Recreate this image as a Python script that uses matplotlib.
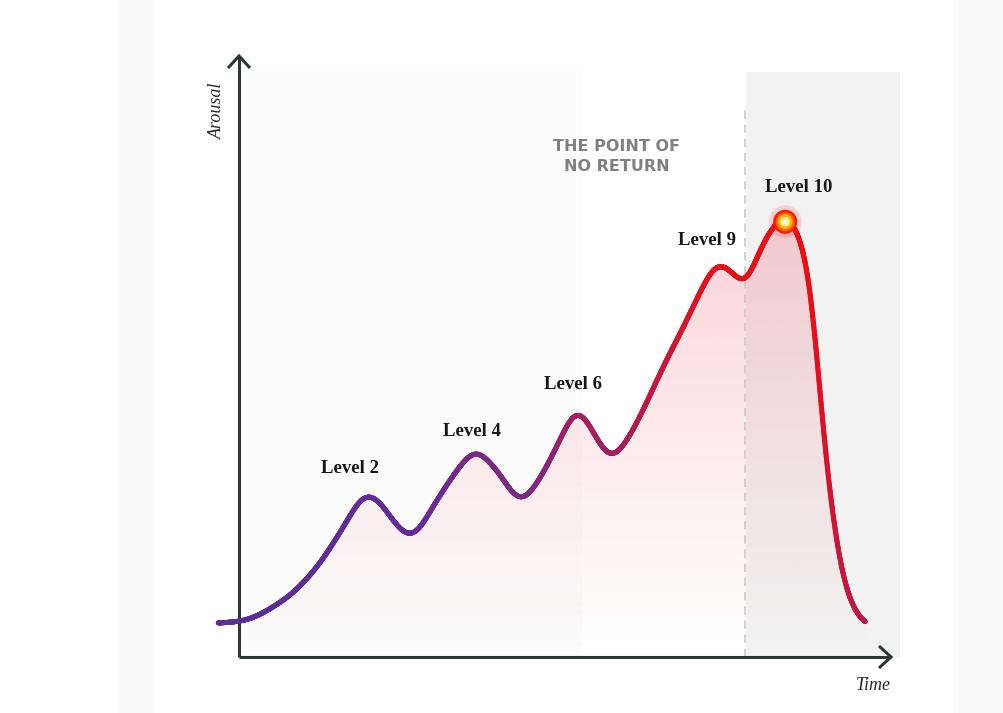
import numpy as np
import matplotlib
matplotlib.use("Agg")
import matplotlib.pyplot as plt
from matplotlib.collections import LineCollection
from matplotlib.patches import Rectangle, Polygon
from matplotlib.colors import LinearSegmentedColormap

# ---------------- data ----------------
# time (0-100 scale) and arousal (0-100 scale) knots of the curve
time_knots = [-3.2, 0.2, 6.8, 12.0, 15.5, 19.8, 26.4, 30.4, 33.5, 36.3,
              39.6, 43.3, 46.7, 49.8, 51.8, 57.3, 59.6, 62.1, 64.2, 66.2,
              68.8, 70.8, 73.7, 75.9, 77.7, 79.0, 80.0, 81.6, 83.9, 86.2,
              87.3, 88.2, 88.9, 89.7, 90.5, 91.2, 92.3, 93.4, 94.9, 96.2]
arousal_knots = [5.7, 6.0, 9.5, 15.1, 20.8, 27.3, 20.2, 26.3, 31.3, 34.5,
                 31.3, 26.2, 30.8, 37.5, 41.4, 33.4, 36.3, 41.4, 46.4, 50.9,
                 56.4, 61.1, 66.0, 64.3, 62.2, 65.3, 68.2, 71.4, 74.0, 70.4,
                 66.2, 59.8, 48.6, 37.5, 29.1, 23.5, 15.1, 10.7, 7.0, 5.7]

level_labels = ["Level 2", "Level 4", "Level 6", "Level 9", "Level 10"]
level_label_t = [17.1, 35.8, 51.3, 71.9, 85.9]
level_label_a = [31.5, 37.7, 45.6, 69.7, 78.6]

climax_t = 83.9
climax_a = 72.9

no_return_t = 77.7
zone_label = "THE POINT OF\nNO RETURN"
x_label = "Time"
y_label = "Arousal"

# ---------------- layout helpers ----------------
W, H = 1004, 713
X0, Y0, SX, SY = 239.0, 657.0, 6.51, 5.97


def px2t(x):
    return (x - X0) / SX


def px2a(y):
    return (Y0 - y) / SY


def pchip(x, y, xs):
    x = np.asarray(x, float)
    y = np.asarray(y, float)
    h = np.diff(x)
    d = np.diff(y) / h
    n = len(x)
    m = np.zeros(n)
    for k in range(1, n - 1):
        if d[k - 1] * d[k] > 0:
            w1 = 2 * h[k] + h[k - 1]
            w2 = h[k] + 2 * h[k - 1]
            m[k] = (w1 + w2) / (w1 / d[k - 1] + w2 / d[k])
    m[0] = d[0] * 0.3
    m[-1] = d[-1] * 0.5
    idx = np.clip(np.searchsorted(x, xs) - 1, 0, n - 2)
    hh = h[idx]
    s = (xs - x[idx]) / hh
    h00 = 2 * s**3 - 3 * s**2 + 1
    h10 = s**3 - 2 * s**2 + s
    h01 = -2 * s**3 + 3 * s**2
    h11 = s**3 - s**2
    return h00 * y[idx] + h10 * hh * m[idx] + h01 * y[idx + 1] + h11 * hh * m[idx + 1]


def smooth_curve(t, a, n=2600, sigma=1.05):
    ts = np.linspace(t[0], t[-1], n)
    raw = pchip(t, a, ts)
    dt = ts[1] - ts[0]
    half = int(4 * sigma / dt)
    kx = np.arange(-half, half + 1) * dt
    ker = np.exp(-0.5 * (kx / sigma) ** 2)
    ker /= ker.sum()
    left = raw[0] + (raw[1] - raw[0]) * np.arange(-half, 0)
    right = raw[-1] + (raw[-1] - raw[-2]) * np.arange(1, half + 1)
    padded = np.concatenate([left, raw, right])
    sm = np.convolve(padded, ker, mode="valid")
    return ts, sm


# ---------------- figure ----------------
fig = plt.figure(figsize=(W / 100, H / 100), dpi=100)
fig.patch.set_facecolor("white")
ax = fig.add_axes([0, 0, 1, 1])
ax.set_xlim(px2t(0), px2t(W))
ax.set_ylim(px2a(H), px2a(0))
ax.axis("off")

# background panels
ax.add_patch(Rectangle((px2t(117), px2a(H)), px2t(155) - px2t(117), px2a(0) - px2a(H),
                       facecolor="#fafafa", edgecolor="none", zorder=0))
ax.add_patch(Rectangle((px2t(953), px2a(H)), px2t(W) - px2t(953), px2a(0) - px2a(H),
                       facecolor="#fafafa", edgecolor="none", zorder=0))
ax.add_patch(Rectangle((px2t(248), 0), px2t(583) - px2t(248), px2a(70),
                       facecolor="#fcfcfc", edgecolor="none", zorder=0))
ax.add_patch(Rectangle((px2t(746), 0), px2t(900) - px2t(746), px2a(72),
                       facecolor="#f2f2f2", edgecolor="none", zorder=0))

# smooth curve
ts, ars = smooth_curve(time_knots, arousal_knots)

# gradient fill under the curve
mask = ts >= 0
verts = [(0, 0)] + list(zip(ts[mask], ars[mask])) + [(ts[-1], 0)]
clip = Polygon(verts, closed=True, facecolor="none", edgecolor="none")
ax.add_patch(clip)
top = 80.0
ny = 300
alpha = np.linspace(0, 1, ny)[:, None] ** 1.1 * 0.28
img = np.zeros((ny, 2, 4))
img[..., 0] = 240 / 255
img[..., 1] = 80 / 255
img[..., 2] = 95 / 255
img[..., 3] = alpha
im = ax.imshow(img, extent=(0, ts[-1], 0, top), origin="lower", aspect="auto",
               interpolation="bilinear", zorder=1)
im.set_clip_path(clip)

# point-of-no-return dashed line
ax.plot([no_return_t, no_return_t], [0, px2a(110)], color="#c9c9c9", lw=1.2,
        dashes=(5, 3.5), zorder=2)

# axes with open chevron arrows
axis_col = "#2e3735"
ax.plot([0, 0], [0, px2a(56)], color=axis_col, lw=2.2, zorder=3, solid_capstyle="butt")
ax.plot([0, px2t(891)], [0, 0], color=axis_col, lw=2.2, zorder=3, solid_capstyle="butt")
ax.plot([px2t(228), px2t(239), px2t(250)], [px2a(68), px2a(56), px2a(68)],
        color=axis_col, lw=2.2, zorder=3, solid_joinstyle="miter", solid_capstyle="butt")
ax.plot([px2t(879), px2t(891), px2t(879)], [px2a(646), px2a(657), px2a(668)],
        color=axis_col, lw=2.2, zorder=3, solid_joinstyle="miter", solid_capstyle="butt")

# gradient coloured curve
p = X0 + SX * ts + SY * ars
stops = [(250, (92, 45, 152)), (560, (100, 44, 150)), (700, (125, 40, 130)),
         (820, (165, 30, 95)), (930, (200, 22, 60)), (1080, (228, 15, 30)),
         (1230, (240, 10, 15))]
pmin, pmax = stops[0][0], stops[-1][0]
cmap = LinearSegmentedColormap.from_list(
    "arc", [((s - pmin) / (pmax - pmin), tuple(c / 255 for c in col)) for s, col in stops])
pts = np.column_stack([ts, ars]).reshape(-1, 1, 2)
segs = np.concatenate([pts[:-1], pts[1:]], axis=1)
pv = 0.5 * (p[:-1] + p[1:])
lc = LineCollection(segs, colors=cmap(np.clip((pv - pmin) / (pmax - pmin), 0, 1)),
                    linewidths=3.6, capstyle="round", joinstyle="round", zorder=4)
ax.add_collection(lc)

# glowing climax dot
for s, c, a_ in [(560, "#ff2020", 0.15), (300, "#ff1a00", 1.0), (185, "#ff6a00", 1.0),
                 (110, "#ffb800", 1.0), (45, "#fff0a0", 1.0), (12, "#ffffff", 1.0)]:
    ax.scatter([climax_t], [climax_a], s=s, color=c, alpha=a_, edgecolors="none", zorder=5)

# labels
for lab, lt, la in zip(level_labels, level_label_t, level_label_a):
    ax.text(lt, la, lab, ha="center", va="center", fontsize=13.5, fontweight="bold",
            family=["Liberation Serif", "DejaVu Serif"], color="#161616", zorder=6)

ax.text(px2t(617), px2a(156.5), zone_label, ha="center", va="center", fontsize=11.5,
        fontweight="bold", family=["DejaVu Sans"], color="#808080", linespacing=1.35, zorder=6)

ax.text(px2t(217), px2a(111), y_label, rotation=90, ha="center", va="center",
        fontsize=13, style="italic", family=["Liberation Serif", "DejaVu Serif"],
        color="#2a2a2a", zorder=6)
ax.text(px2t(873), px2a(686), x_label, ha="center", va="center", fontsize=13,
        style="italic", family=["Liberation Serif", "DejaVu Serif"], color="#2a2a2a", zorder=6)

fig.savefig("out.png", dpi=100, facecolor=fig.get_facecolor())
